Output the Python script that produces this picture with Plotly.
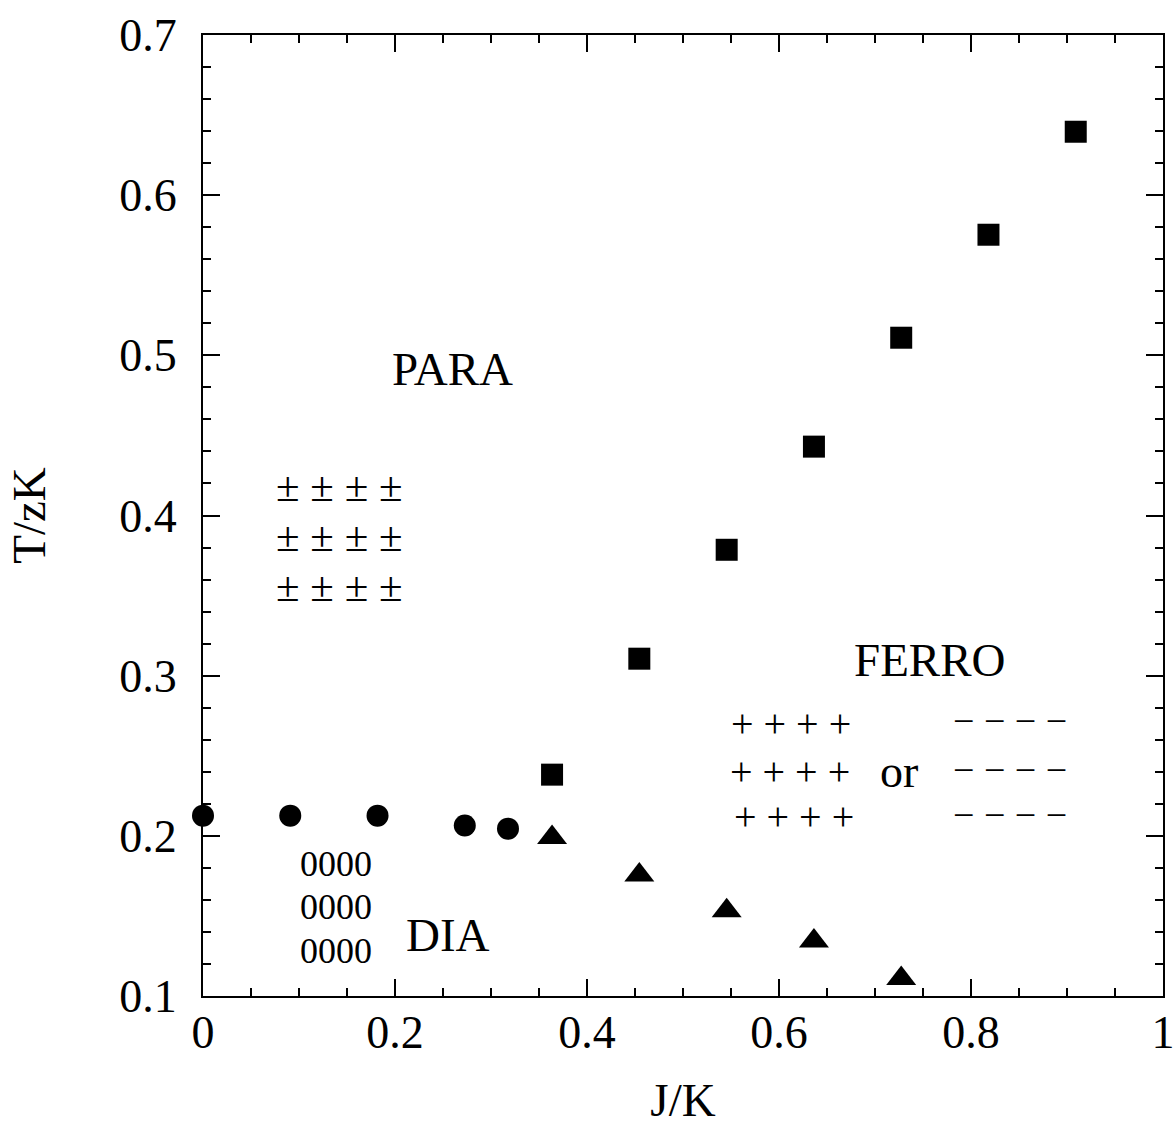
import plotly.graph_objects as go

# ---- data ----
dia_x = [0.0, 0.0909, 0.1818, 0.2727, 0.3177]
dia_y = [0.2126, 0.2126, 0.2126, 0.2065, 0.2045]

ferro_x = [0.3636, 0.4545, 0.5455, 0.6364, 0.7273, 0.8182, 0.9091]
ferro_y = [0.2382, 0.3106, 0.3786, 0.4430, 0.5110, 0.5753, 0.6396]

tri_x = [0.3636, 0.4545, 0.5455, 0.6364, 0.7273]
tri_y = [0.1990, 0.1755, 0.1533, 0.1343, 0.1110]

x_ticks = [0, 0.2, 0.4, 0.6, 0.8, 1]
x_ticklabels = ["0", "0.2", "0.4", "0.6", "0.8", "1"]
y_ticks = [0.1, 0.2, 0.3, 0.4, 0.5, 0.6, 0.7]
y_ticklabels = ["0.1", "0.2", "0.3", "0.4", "0.5", "0.6", "0.7"]

FONT = "Liberation Serif, Times New Roman, serif"

fig = go.Figure()
fig.add_trace(go.Scatter(x=dia_x, y=dia_y, mode="markers", cliponaxis=False,
                         marker=dict(symbol="circle", size=22, color="black"),
                         showlegend=False))
fig.add_trace(go.Scatter(x=ferro_x, y=ferro_y, mode="markers", cliponaxis=False,
                         marker=dict(symbol="square", size=22, color="black"),
                         showlegend=False))
fig.add_trace(go.Scatter(x=tri_x, y=tri_y, mode="markers", cliponaxis=False,
                         marker=dict(symbol="triangle-up", size=26, color="black"),
                         showlegend=False))

# text labels inside the plot: (text, x, y, font size)
labels = [
    ("PARA", 0.2604, 0.4916, 47),
    ("± ± ± ±", 0.1419, 0.4179, 43),
    ("± ± ± ±", 0.1419, 0.3867, 43),
    ("± ± ± ±", 0.1419, 0.3555, 43),
    ("0000", 0.1390, 0.1826, 36),
    ("0000", 0.1390, 0.1553, 36),
    ("0000", 0.1390, 0.1278, 36),
    ("DIA", 0.2552, 0.1378, 47),
    ("FERRO", 0.7573, 0.3100, 47),
    ("+ + + +", 0.6127, 0.2700, 40),
    ("+ + + +", 0.6119, 0.2400, 40),
    ("+ + + +", 0.6153, 0.2121, 40),
    ("or", 0.7247, 0.2402, 46),
    ("\u2212 \u2212 \u2212 \u2212", 0.8408, 0.2714, 38),
    ("\u2212 \u2212 \u2212 \u2212", 0.8408, 0.2413, 38),
    ("\u2212 \u2212 \u2212 \u2212", 0.8408, 0.2132, 38),
]
for txt, x, y, sz in labels:
    fig.add_annotation(x=x, y=y, xref="x", yref="y", text=txt, showarrow=False,
                       xanchor="center", yanchor="middle", borderpad=0,
                       font=dict(family=FONT, size=sz, color="black"))

axis_common = dict(
    showgrid=False, zeroline=False, showline=True, linecolor="black", linewidth=2,
    mirror="ticks", ticks="inside", ticklen=17, tickwidth=2, tickcolor="black",
    tickfont=dict(family=FONT, size=46, color="black"), automargin=False,
)

fig.update_xaxes(range=[0, 1], tickvals=x_ticks, ticktext=x_ticklabels,
                 ticklabelstandoff=-5,
                 minor=dict(dtick=0.05, ticks="inside", ticklen=8, tickwidth=2, tickcolor="black"),
                 title=dict(text="J/K", font=dict(family=FONT, size=47, color="black"), standoff=35),
                 **axis_common)
fig.update_yaxes(range=[0.1, 0.7], tickvals=y_ticks, ticktext=y_ticklabels,
                 ticklabelstandoff=15,
                 minor=dict(dtick=0.02, tick0=0.1, ticks="inside", ticklen=8, tickwidth=2, tickcolor="black"),
                 title=dict(text="T/zK", font=dict(family=FONT, size=47, color="black"), standoff=59),
                 **axis_common)

fig.update_layout(width=1175, height=1126, margin=dict(l=203, r=12, t=35, b=130),
                  plot_bgcolor="white", paper_bgcolor="white")

fig.write_html("out.html")
